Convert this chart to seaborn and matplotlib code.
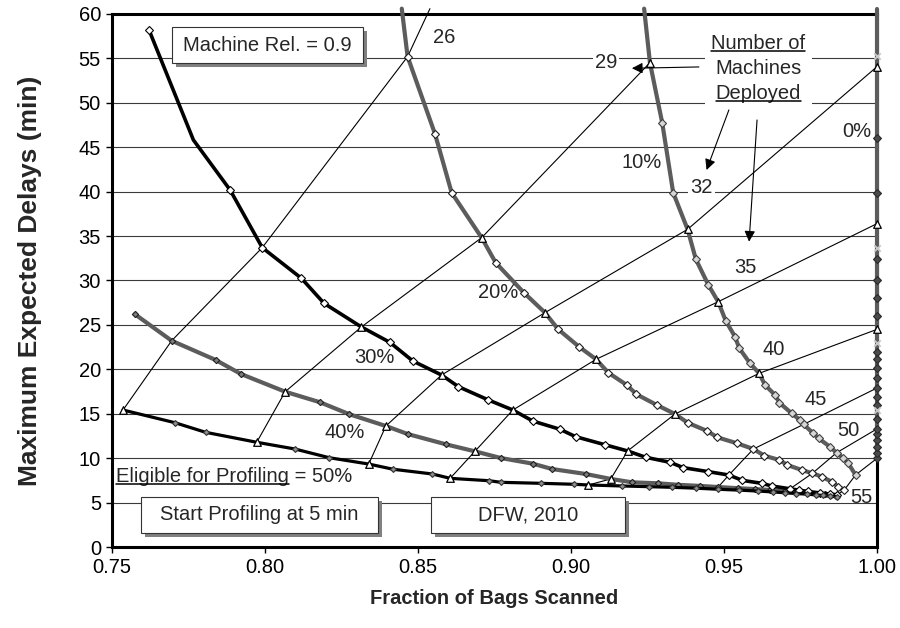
import matplotlib
matplotlib.use("Agg")
import matplotlib.pyplot as plt
from matplotlib.patches import Rectangle
import pandas as pd
import seaborn as sns

# ---------------- data: fraction of bags scanned vs. max expected delay ----------------
# one curve per share of passengers eligible for profiling
x_50 = [0.7536, 0.7706, 0.7806, 0.7973, 0.8098, 0.8210, 0.8339, 0.8419, 0.8547, 0.8605,
        0.8733, 0.8771, 0.8901, 0.9011, 0.9057, 0.9168, 0.9256, 0.9330, 0.9410, 0.9480,
        0.9550, 0.9610, 0.9660, 0.9700, 0.9735, 0.9770, 0.9800, 0.9825, 0.9848, 0.9868]
y_50 = [15.42, 13.99, 12.91, 11.79, 11.03, 10.05, 9.34, 8.75, 8.22, 7.73,
        7.46, 7.28, 7.17, 7.06, 6.98, 6.87, 6.79, 6.72, 6.62, 6.50,
        6.40, 6.30, 6.20, 6.10, 6.02, 5.95, 5.87, 5.80, 5.72, 5.66]

x_40 = [0.7575, 0.7695, 0.7839, 0.7921, 0.8066, 0.8180, 0.8276, 0.8395, 0.8466, 0.8591,
        0.8686, 0.8770, 0.8875, 0.8938, 0.9048, 0.9130, 0.9200, 0.9285, 0.9350, 0.9420,
        0.9481, 0.9545, 0.9600, 0.9650, 0.9700, 0.9738, 0.9775, 0.9805, 0.9830, 0.9850, 0.9866]
y_40 = [26.20, 23.22, 21.05, 19.48, 17.48, 16.29, 14.94, 13.62, 12.72, 11.56,
        10.77, 10.02, 9.38, 8.78, 8.22, 7.66, 7.28, 7.17, 7.00, 6.88,
        6.75, 6.62, 6.52, 6.42, 6.32, 6.22, 6.12, 6.02, 5.93, 5.85, 5.78]

x_30 = [0.7621, 0.7766, 0.7886, 0.7991, 0.8119, 0.8193, 0.8315, 0.8408, 0.8483, 0.8577,
        0.8632, 0.8730, 0.8810, 0.8875, 0.8964, 0.9015, 0.9110, 0.9185, 0.9244, 0.9324,
        0.9367, 0.9449, 0.9516, 0.9560, 0.9623, 0.9656, 0.9716, 0.9745, 0.9775, 0.9814,
        0.9846, 0.9870]
y_30 = [58.20, 45.82, 40.19, 33.70, 30.25, 27.43, 24.77, 23.04, 20.94, 19.36,
        18.05, 16.55, 15.42, 14.18, 13.25, 12.42, 11.52, 10.81, 10.10, 9.53,
        8.93, 8.48, 8.10, 7.50, 7.17, 6.87, 6.55, 6.40, 6.25, 6.08,
        5.95, 5.88]

x_20 = [0.8447, 0.8466, 0.8556, 0.8610, 0.8708, 0.8754, 0.8846, 0.8915, 0.8958, 0.9026,
        0.9082, 0.9122, 0.9182, 0.9214, 0.9280, 0.9340, 0.9381, 0.9445, 0.9478, 0.9543,
        0.9596, 0.9632, 0.9681, 0.9707, 0.9754, 0.9789, 0.9819, 0.9852, 0.9873, 0.9893]
y_20 = [60.60, 55.20, 46.46, 39.88, 34.82, 32.00, 28.63, 26.38, 24.51, 22.55,
        21.13, 19.62, 18.24, 17.19, 15.99, 14.97, 13.99, 13.06, 12.35, 11.67,
        11.03, 10.28, 9.79, 9.23, 8.67, 8.30, 7.92, 7.35, 6.79, 6.42]

x_10 = [0.9239, 0.9258, 0.9298, 0.9334, 0.9381, 0.9408, 0.9449, 0.9481, 0.9506, 0.9536,
        0.9550, 0.9585, 0.9615, 0.9634, 0.9667, 0.9681, 0.9721, 0.9748, 0.9760, 0.9792,
        0.9809, 0.9846, 0.9868, 0.9890, 0.9906, 0.9930]
y_10 = [60.60, 54.52, 47.77, 39.88, 35.76, 32.39, 29.49, 27.61, 25.44, 23.67,
        22.37, 20.68, 19.55, 18.24, 17.11, 16.24, 15.05, 14.30, 13.80, 12.79,
        12.23, 11.29, 10.61, 9.99, 9.42, 8.11]

y_00 = [9.98, 10.6, 11.3, 12.0, 12.7, 13.3, 14.4, 16.0, 16.9, 17.9, 19.0, 20.2, 21.2,
        22.0, 24.5, 26.0, 28.0, 30.06, 32.4, 36.4, 39.9, 46.0, 54.07, 60.6]
x_00 = [1.0] * len(y_00)
# secondary markers on the 0% line
y_00_alt = [15.4, 23.0, 33.7, 55.3]

# lines of equal number of machines deployed (50% -> 0% eligible)
iso_26_x = [0.7536, 0.7695, 0.7991, 0.8466, 0.8539]
iso_26_y = [15.42, 23.22, 33.70, 55.20, 60.60]
iso_29_x = [0.7973, 0.8066, 0.8315, 0.8708, 0.9258]
iso_29_y = [11.79, 17.48, 24.77, 34.82, 54.52]
iso_32_x = [0.8339, 0.8395, 0.8577, 0.8915, 0.9381, 1.0]
iso_32_y = [9.34, 13.62, 19.36, 26.38, 35.76, 54.07]
iso_35_x = [0.8605, 0.8686, 0.8810, 0.9082, 0.9481, 1.0]
iso_35_y = [7.73, 10.77, 15.42, 21.13, 27.61, 36.40]
iso_40_x = [0.9057, 0.9130, 0.9185, 0.9340, 0.9615, 1.0]
iso_40_y = [6.98, 7.66, 10.81, 14.97, 19.55, 24.50]
iso_45_x = [0.9480, 0.9481, 0.9516, 0.9596, 0.9760, 1.0]
iso_45_y = [6.50, 6.75, 8.10, 11.03, 13.80, 17.90]
iso_50_x = [0.9700, 0.9700, 0.9716, 0.9789, 0.9868, 1.0]
iso_50_y = [6.10, 6.32, 6.55, 8.30, 10.61, 13.30]
iso_55_x = [0.9868, 0.9866, 0.9870, 0.9893, 0.9930, 1.0]
iso_55_y = [5.66, 5.78, 5.88, 6.42, 8.11, 9.98]

x_ticks = [0.75, 0.80, 0.85, 0.90, 0.95, 1.00]
x_tick_labels = ["0.75", "0.80", "0.85", "0.90", "0.95", "1.00"]
y_ticks = list(range(0, 61, 5))

# ---------------- styling ----------------
sns.set_style("white")
plt.rcParams["font.family"] = ["Liberation Sans", "DejaVu Sans"]
FS = 14.5

fig = plt.figure(figsize=(9.0, 6.28), dpi=100)
ax = fig.add_axes([0.12444, 0.12898, 0.85, 0.84873])
ax.set_xlim(0.75, 1.00)
ax.set_ylim(0, 60)

for y in y_ticks[1:-1]:
    ax.axhline(y, color="#3a3a3a", lw=0.8, zorder=0.5)

iso_lines = [(iso_26_x, iso_26_y), (iso_29_x, iso_29_y), (iso_32_x, iso_32_y),
             (iso_35_x, iso_35_y), (iso_40_x, iso_40_y), (iso_45_x, iso_45_y),
             (iso_50_x, iso_50_y), (iso_55_x, iso_55_y)]
for xs, ys in iso_lines:
    sns.lineplot(data=pd.DataFrame({"x": xs, "y": ys}), x="x", y="y", ax=ax,
                 sort=False, estimator=None, color="black", linewidth=0.8,
                 zorder=2, clip_on=False)

# triangle markers where the machine-count lines meet each curve
tri_pts = [(iso_26_x[0], iso_26_y[0])]
for xs, ys in [(iso_29_x, iso_29_y), (iso_32_x, iso_32_y),
               (iso_35_x, iso_35_y), (iso_40_x, iso_40_y)]:
    tri_pts += list(zip(xs, ys))
plain_pts = [(x_30[1], y_30[1])]


def marker_index(xs, ys):
    skip = tri_pts + plain_pts
    out = []
    for i, (x, y) in enumerate(zip(xs, ys)):
        if y > 60:
            continue
        if any(abs(x - a) < 1e-9 and abs(y - b) < 1e-9 for a, b in skip):
            continue
        out.append(i)
    return out


curves = [
    (x_00, y_00, dict(color="#5c5c5c", linewidth=3.0, markerfacecolor="#4a4a4a",
                      markeredgecolor="#2a2a2a", markersize=4.4)),
    (x_10, y_10, dict(color="#5c5c5c", linewidth=3.0, markerfacecolor="#d6d6d6",
                      markeredgecolor="#404040", markersize=4.2)),
    (x_20, y_20, dict(color="#5c5c5c", linewidth=3.0, markerfacecolor="white",
                      markeredgecolor="#202020", markersize=4.0)),
    (x_40, y_40, dict(color="#5c5c5c", linewidth=3.0, markerfacecolor="#7c7c7c",
                      markeredgecolor="#202020", markersize=3.2)),
    (x_30, y_30, dict(color="black", linewidth=2.6, markerfacecolor="white",
                      markeredgecolor="black", markersize=4.0)),
    (x_50, y_50, dict(color="black", linewidth=2.3, markerfacecolor="#8e8e8e",
                      markeredgecolor="#303030", markersize=3.0)),
]
for xs, ys, st in curves:
    sns.lineplot(data=pd.DataFrame({"x": xs, "y": ys}), x="x", y="y", ax=ax,
                 sort=False, estimator=None, marker="D", markeredgewidth=0.8,
                 markevery=marker_index(xs, ys), zorder=3, clip_on=False, **st)

sns.scatterplot(x=[1.0] * len(y_00_alt), y=y_00_alt, ax=ax, marker="x", s=22,
                color="#c8c8c8", linewidth=1.3, zorder=4, clip_on=False)
sns.scatterplot(x=[p[0] for p in tri_pts], y=[p[1] for p in tri_pts], ax=ax,
                marker="^", s=30, color="white", edgecolor="black", linewidth=0.9,
                zorder=4, clip_on=False)

# ---------------- axes ----------------
ax.set_xticks(x_ticks)
ax.set_xticklabels(x_tick_labels)
ax.set_yticks(y_ticks)
ax.tick_params(direction="out", length=4, width=1, labelsize=FS, pad=4,
               colors="black", left=True, bottom=True)
for sp in ax.spines.values():
    sp.set_visible(True)
    sp.set_color("black")
    sp.set_linewidth(2.2)
ax.set_xlabel("Fraction of Bags Scanned", fontsize=14.5, fontweight="bold", va="center")
ax.set_ylabel("Maximum Expected Delays (min)", fontsize=19, fontweight="bold",
              va="center")
ax.xaxis.set_label_coords(0.5, -0.0957)
ax.yaxis.set_label_coords(-0.107, 0.5)


# ---------------- annotations ----------------
def shadow_box(x0, y0, x1, y1, text):
    dx, dy = 0.0052, 0.0075
    ax.add_patch(Rectangle((x0 + dx, y0 - dy), x1 - x0, y1 - y0, transform=ax.transAxes,
                           facecolor="#808080", edgecolor="none", zorder=5, clip_on=False))
    ax.add_patch(Rectangle((x0, y0), x1 - x0, y1 - y0, transform=ax.transAxes,
                           facecolor="white", edgecolor="#333333", lw=0.8, zorder=5.5,
                           clip_on=False))
    ax.text((x0 + x1) / 2, (y0 + y1) / 2, text, transform=ax.transAxes, ha="center",
            va="center", fontsize=FS, zorder=6)


shadow_box(0.0784, 0.9080, 0.3281, 0.9756, "Machine Rel. = 0.9")
shadow_box(0.0379, 0.0263, 0.3477, 0.0938, "Start Profiling at 5 min")
shadow_box(0.4170, 0.0263, 0.6706, 0.0938, "DFW, 2010")

ax.add_patch(Rectangle((0.7752, 0.8274), 0.1398, 0.1426, transform=ax.transAxes,
                       facecolor="white", edgecolor="none", zorder=1))

plain_labels = [
    ("26", 0.8586, 57.30), ("10%", 0.9231, 43.29), ("0%", 0.9935, 46.75),
    ("35", 0.9571, 31.46), ("40", 0.9663, 22.18), ("45", 0.9801, 16.55),
    ("50", 0.9908, 13.11), ("55", 0.9948, 5.52), ("20%", 0.8762, 28.65),
    ("30%", 0.8356, 21.33), ("40%", 0.8260, 12.89),
]
for s, x, y in plain_labels:
    ax.text(x, y, s, ha="center", va="center", fontsize=FS, zorder=6)
for s, x, y in [("29", 0.9114, 54.54), ("32", 0.9427, 40.47)]:
    ax.text(x, y, s, ha="center", va="center", fontsize=FS, zorder=6,
            bbox=dict(facecolor="white", edgecolor="none", pad=1.5))

head = dict(arrowstyle="-|>", mutation_scale=16, lw=0.8, color="black",
            shrinkA=0, shrinkB=0)
ax.annotate("", xy=(0.9199, 53.89), xytext=(0.9418, 54.04), arrowprops=head, zorder=6)
ax.annotate("", xy=(0.9443, 42.44), xytext=(0.9516, 49.20), arrowprops=head, zorder=6)
ax.annotate("", xy=(0.9582, 34.37), xytext=(0.9608, 48.07), arrowprops=head, zorder=6)

heading = []
for s, y in [("Number of", 56.70), ("Machines", 53.89), ("Deployed", 51.08)]:
    heading.append(ax.text(0.9612, y, s, ha="center", va="center", fontsize=FS, zorder=6))
elig = ax.text(0.7513, 7.99, "Eligible for Profiling", ha="left", va="center",
               fontsize=FS, zorder=6)

fig.canvas.draw()
renderer = fig.canvas.get_renderer()
inv = ax.transData.inverted()


def underline(t):
    bb = t.get_window_extent(renderer)
    (x0, y0), (x1, _) = inv.transform([(bb.x0, bb.y0 + 1.5), (bb.x1, bb.y0)])
    ax.plot([x0, x1], [y0, y0], color="black", lw=1.1, zorder=6, clip_on=False)
    return bb


underline(heading[0])
underline(heading[2])
bb = underline(elig)
ex, ey = inv.transform((bb.x1, (bb.y0 + bb.y1) / 2))
ax.text(ex, 7.99, " = 50%", ha="left", va="center", fontsize=FS, zorder=6)

leg = ax.get_legend()
if leg is not None:
    leg.remove()

fig.savefig("out.png", dpi=100, facecolor="white")
